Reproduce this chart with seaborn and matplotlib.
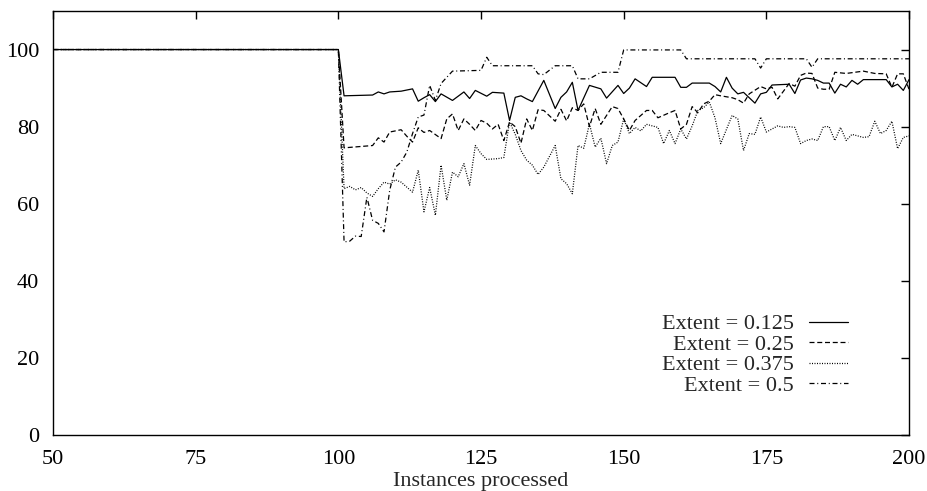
import matplotlib
matplotlib.use("Agg")
import matplotlib.pyplot as plt
import seaborn as sns
import pandas as pd

# ---- data ----
x_0125 = [50, 100, 101, 106, 107, 108, 109, 111, 113, 114, 115, 116, 117, 118, 120, 122, 123, 124,
          126, 127, 129, 130, 131, 132, 133, 134, 136, 138, 139, 140, 141, 142, 144, 146, 147, 149,
          150, 151, 152, 154, 155, 159, 160, 161, 162, 165, 166, 167, 168, 169, 170, 171, 173, 174,
          175, 176, 179, 180, 181, 182, 183, 184, 185, 186, 187, 188, 189, 190, 191, 192, 196, 197,
          198, 199, 200]
y_0125 = [100, 100, 88, 88.2, 89, 88.5, 89, 89.2, 89.8, 86.6, 87.5, 88.3, 86.5, 88.5, 86.8, 89, 87.3, 89.4,
          87.9, 88.9, 88.7, 81.6, 87.6, 88, 87.2, 86.5, 92, 84.7, 87.6, 89, 91.5, 84.2, 90.7, 89.8, 87.4, 90.7,
          88.6, 90, 92.4, 90.4, 92.8, 92.8, 90.2, 90.2, 91.3, 91.3, 90.4, 89, 92.8, 90, 88.5, 88.9, 86.1, 88.5,
          88.9, 90.8, 91, 88.6, 92.1, 92.6, 92.4, 92, 91.3, 91.3, 88.7, 91, 90.3, 92, 91, 92.2, 92.2, 90.3,
          91, 89.4, 92.2]

x_025 = [50, 100, 101, 106, 107, 108, 109, 111, 112, 113, 114, 115, 116, 118, 119, 120, 121, 122, 123,
         124, 125, 126, 127, 128, 129, 130, 131, 132, 133, 134, 135, 136, 138, 139, 140, 141, 142, 143,
         144, 145, 146, 148, 149, 150, 151, 152, 154, 155, 156, 158, 159, 160, 161, 162, 163, 164, 165,
         166, 167, 169, 170, 171, 172, 174, 175, 176, 177, 179, 180, 181, 182, 183, 184, 185, 186, 187,
         189, 192, 194, 196, 197, 198, 199, 200]
y_025 = [100, 100, 74.5, 75.1, 77.1, 76, 78.6, 79.2, 77.5, 76, 79.7, 78.5, 79, 76.9, 82, 83.3, 79, 82, 80.6,
         79, 81.6, 80.9, 79.4, 80.6, 76.4, 81.2, 80, 75.7, 82, 79, 84.4, 84.2, 81.4, 84.5, 81.5, 84.9, 84.2, 85.9,
         80, 84.7, 80.6, 85.2, 84.7, 82, 79, 81.6, 84.2, 84.2, 82.3, 83.6, 84.2, 79.4, 80.6, 85.2, 83.6, 85.9, 86.6,
         88.3, 88, 87.5, 87, 86.1, 88.5, 90.4, 89.8, 90.2, 87.2, 91.2, 90.5, 93.3, 93.9, 93.8, 90, 89.7, 89.7, 94.1,
         93.8, 94.4, 93.8, 93.7, 90.2, 93.7, 93.7, 89.7]

x_0375 = [50, 100, 101, 102, 103, 104, 105, 106, 107, 108, 109, 110, 111, 113, 114, 115, 116, 117, 118,
          119, 120, 121, 122, 123, 124, 125, 126, 128, 129, 130, 131, 132, 133, 134, 135, 136, 138, 139,
          140, 141, 142, 143, 144, 145, 146, 147, 148, 149, 150, 151, 152, 153, 154, 156, 157, 158, 159,
          160, 161, 162, 163, 164, 165, 166, 167, 169, 170, 171, 172, 173, 174, 175, 176, 177, 178, 179,
          180, 181, 182, 183, 184, 185, 186, 187, 188, 189, 190, 192, 193, 194, 195, 196, 197, 198, 199, 200]
y_0375 = [100, 100, 63.9, 64.5, 63.6, 64.2, 62.8, 61.9, 63.9, 65.6, 65.1, 66.2, 65.6, 63, 68.7, 57.9, 64.2, 57, 70,
          60.9, 68.2, 67, 70.4, 64.8, 75.1, 73, 71.5, 71.7, 72, 81.2, 78, 73.8, 71.3, 70, 67.6, 69.5, 75.1, 66.5,
          65.2, 62.6, 75.1, 74.4, 80.7, 74.7, 77, 70.4, 75.1, 76, 82, 78.2, 79.8, 78.9, 80.6, 79.8, 75.6, 79, 75.6,
          79.4, 76.8, 80.2, 84.2, 84.9, 86.4, 82.3, 75.6, 82.9, 82, 73.8, 78.2, 78, 82.5, 78.6, 79.4, 80.2, 79.8, 80,
          79.8, 75.6, 76.4, 76.8, 76.4, 80, 80, 76.4, 79.8, 76.4, 78, 77.2, 77.4, 81.4, 78.2, 79, 81.4, 74.3, 77.2, 77.6]

x_05 = [50, 100, 101, 102, 103, 104, 105, 106, 107, 108, 109, 110, 111, 112, 113, 114, 115, 116, 117,
        118, 120, 125, 126, 127, 134, 135, 136, 138, 141, 142, 144, 146, 149, 150, 160, 161, 173, 174,
        175, 182, 183, 184, 200]
y_05 = [100, 100, 50.1, 50.3, 51.6, 51.5, 61.7, 55.7, 54.9, 52.7, 63.5, 69.5, 70.8, 73.4, 78.2, 82.5, 83, 90.7, 86.8,
        91.2, 94.4, 94.6, 98, 95.8, 95.8, 93.7, 93.5, 95.8, 95.8, 92.4, 92.4, 94.1, 94.1, 99.9, 99.9, 97.6, 97.6, 95.2,
        97.6, 97.6, 95.4, 97.6, 97.6]

labels = ["Extent = 0.125", "Extent = 0.25", "Extent = 0.375", "Extent = 0.5"]
x_ticks = [50, 75, 100, 125, 150, 175, 200]
y_ticks = [0, 20, 40, 60, 80, 100]
x_label = "Instances processed"

frames = []
for lab, xs, ys in zip(labels, [x_0125, x_025, x_0375, x_05], [y_0125, y_025, y_0375, y_05]):
    frames.append(pd.DataFrame({"x": xs, "y": ys, "series": lab}))
df = pd.concat(frames, ignore_index=True)

# ---- styling ----
sns.set_theme(style="white")
plt.rcParams["font.family"] = ["Liberation Serif", "DejaVu Serif"]
plt.rcParams["font.size"] = 16

fig = plt.figure(figsize=(9.27, 4.91), dpi=100)
ax = fig.add_axes([0.0572, 0.114, 0.9234, 0.8636])

dash_map = {labels[0]: "", labels[1]: (4, 2.2), labels[2]: (0.8, 1.2), labels[3]: (4, 2.2, 0.8, 2.2)}
sns.lineplot(data=df, x="x", y="y", style="series", dashes=dash_map, color="black",
             linewidth=0.9, estimator=None, sort=True, ax=ax, legend=True)

ax.set_xlim(50, 200)
ax.set_ylim(0, 110)
ax.set_xticks(x_ticks)
ax.set_yticks(y_ticks)
ax.set_xlabel(x_label, fontsize=16, labelpad=2)
ax.set_ylabel("")
for s in ax.spines.values():
    s.set_color("black")
    s.set_linewidth(1.0)
ax.tick_params(direction="in", length=6, width=1, color="black", top=True, right=True,
               labelsize=16, labelcolor="black")
ax.tick_params(axis="y", pad=10)
ax.tick_params(axis="x", pad=11)

handles, labs = ax.get_legend_handles_labels()
ax.legend(handles, labs, loc="lower right", bbox_to_anchor=(0.929, 0.092), frameon=False,
          markerfirst=False, handlelength=1.75, handletextpad=0.7, labelspacing=0.0,
          borderpad=0, borderaxespad=0, fontsize=16)

fig.savefig("out.png", dpi=100)
